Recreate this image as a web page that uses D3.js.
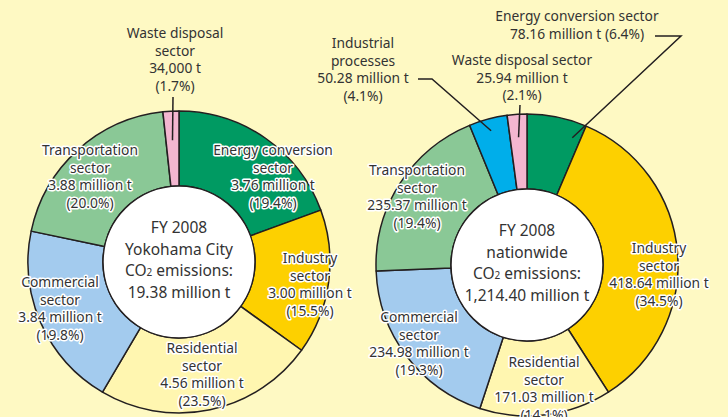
<!DOCTYPE html>
<html>
<head>
<meta charset="utf-8">
<script src="https://cdn.jsdelivr.net/npm/d3@7"></script>
<style>
  html, body { margin: 0; padding: 0; background: #fef9c3; }
  svg { display: block; }
  text { font-family: "Noto Sans", "DejaVu Sans", sans-serif; fill: #333333; }
  .halo { paint-order: stroke; stroke: #ffffff; stroke-width: 3px; stroke-linejoin: round; }
</style>
</head>
<body>
<svg id="chart" width="728" height="417"></svg>
<script>
// ---------- DATA ----------
const sectors = ["Energy conversion", "Industry", "Residential", "Commercial", "Transportation", "Industrial processes", "Waste disposal"];
const sectorColors = ["#009a62", "#fdd000", "#fff6b0", "#a3cbee", "#8ac896", "#00aeea", "#f3b6d0"];

const yokohamaSectors = ["Energy conversion", "Industry", "Residential", "Commercial", "Transportation", "Waste disposal"];
const yokohamaShare = [19.4, 15.5, 23.5, 19.8, 20.0, 1.7];
const yokohamaAmount = ["3.76 million t", "3.00 million t", "4.56 million t", "3.84 million t", "3.88 million t", "34,000 t"];
const yokohamaTitle = ["FY 2008", "Yokohama City", "CO|2| emissions:", "19.38 million t"];

const nationSectors = ["Energy conversion", "Industry", "Residential", "Commercial", "Transportation", "Industrial processes", "Waste disposal"];
const nationShare = [6.4, 34.5, 14.1, 19.3, 19.4, 4.1, 2.1];
const nationAmount = ["78.16 million t", "418.64 million t", "171.03 million t", "234.98 million t", "235.37 million t", "50.28 million t", "25.94 million t"];
const nationTitle = ["FY 2008", "nationwide", "CO|2| emissions:", "1,214.40 million t"];

// ---------- LAYOUT (positions / styles, not data) ----------
const W = 728, H = 417;
const outerR = 151, innerR = 76;
const donuts = [
  { cx: 179, cy: 262, names: yokohamaSectors, share: yokohamaShare, amount: yokohamaAmount, title: yokohamaTitle,
    labels: {
      "Energy conversion": { x: 94, y: -107, lines: ["Energy conversion", "sector", "@a", "(@p)"], halo: true },
      "Industry":          { x: 131, y: 1, lines: ["Industry", "sector", "@a", "(@p)"], halo: true },
      "Residential":       { x: 23, y: 91, lines: ["Residential", "sector", "@a", "(@p)"], halo: true },
      "Commercial":        { x: -119, y: 25, lines: ["Commercial", "sector", "@a", "(@p)"], halo: true },
      "Transportation":    { x: -89, y: -107, lines: ["Transportation", "sector", "@a", "(@p)"], halo: true },
      "Waste disposal":    { x: -4, y: -224, lines: ["Waste disposal", "sector", "@a", "(@p)"], halo: false,
                             leader: { frac: 0.5, r: 122, pts: [[-6, -165]] } }
    } },
  { cx: 527, cy: 265, names: nationSectors, share: nationShare, amount: nationAmount, title: nationTitle,
    labels: {
      "Energy conversion": { x: 50, y: -244, lines: ["Energy conversion sector", "@a (@p)"], halo: false,
                             leader: { frac: 0.85, r: 135, pts: [[128, -229], [154, -229]] } },
      "Industry":          { x: 132, y: -12, lines: ["Industry", "sector", "@a", "(@p)"], halo: true },
      "Residential":       { x: 17, y: 102, lines: ["Residential", "sector", "@a", "(@p)"], halo: true },
      "Commercial":        { x: -108, y: 57, lines: ["Commercial", "sector", "@a", "(@p)"], halo: true },
      "Transportation":    { x: -110, y: -90, lines: ["Transportation", "sector", "@a", "(@p)"], halo: true },
      "Industrial processes": { x: -164, y: -217, lines: ["Industrial", "processes", "@a", "(@p)"], halo: false,
                             leader: { frac: 0.5, r: 139, pts: [[-109, -186], [-95, -186]] } },
      "Waste disposal":    { x: -5, y: -200, lines: ["Waste disposal sector", "@a", "(@p)"], halo: false,
                             leader: { frac: 0.5, r: 128, pts: [[-7, -160]] } }
    } }
];
const lineH = 17.5;
const fontSize = 13.8;

const svg = d3.select("#chart");
svg.append("rect").attr("width", W).attr("height", H).attr("fill", "#fef9c3");

const color = d3.scaleOrdinal().domain(sectors).range(sectorColors);
const pie = d3.pie().sort(null).value(d => d.share);
const arc = d3.arc().innerRadius(innerR).outerRadius(outerR);

donuts.forEach(dn => {
  const rows = dn.names.map((n, i) => ({ name: n, share: dn.share[i], amount: dn.amount[i] }));
  const arcs = pie(rows);
  const g = svg.append("g").attr("transform", `translate(${dn.cx},${dn.cy})`);

  g.selectAll("path.slice").data(arcs).join("path")
    .attr("class", "slice")
    .attr("d", arc)
    .attr("fill", d => color(d.data.name))
    .attr("stroke", "#231f20")
    .attr("stroke-width", 1.5)
    .attr("stroke-linejoin", "round");

  g.append("circle").attr("r", innerR).attr("fill", "#ffffff")
    .attr("stroke", "#231f20").attr("stroke-width", 1.5);

  // center title
  const tH = 21.5;
  dn.title.forEach((t, i) => {
    const tx = g.append("text").attr("x", 0).attr("y", -29 + i * tH)
      .attr("text-anchor", "middle").attr("font-size", 15.5);
    t.split("|").forEach((part, k) => {
      tx.append("tspan").text(part).attr("font-size", k === 1 ? 10 : null);
    });
  });

  // labels
  arcs.forEach(a => {
    const L = dn.labels[a.data.name];
    if (!L) return;
    const pct = d3.format(".1f")(a.data.share) + "%";
    if (L.leader) {
      const ang = a.startAngle + L.leader.frac * (a.endAngle - a.startAngle);
      const tip = [L.leader.r * Math.sin(ang), -L.leader.r * Math.cos(ang)];
      const pts = L.leader.pts.concat([tip]);
      g.append("path").attr("d", d3.line()(pts))
        .attr("fill", "none").attr("stroke", "#231f20").attr("stroke-width", 1.5);
    }
    const tx = g.append("text").attr("text-anchor", "middle").attr("font-size", fontSize)
      .attr("class", L.halo ? "halo" : null);
    L.lines.forEach((ln, i) => {
      tx.append("tspan").attr("x", L.x).attr("y", L.y + i * lineH)
        .text(ln.replace("@a", a.data.amount).replace("@p", pct));
    });
  });
});
</script>
</body>
</html>
